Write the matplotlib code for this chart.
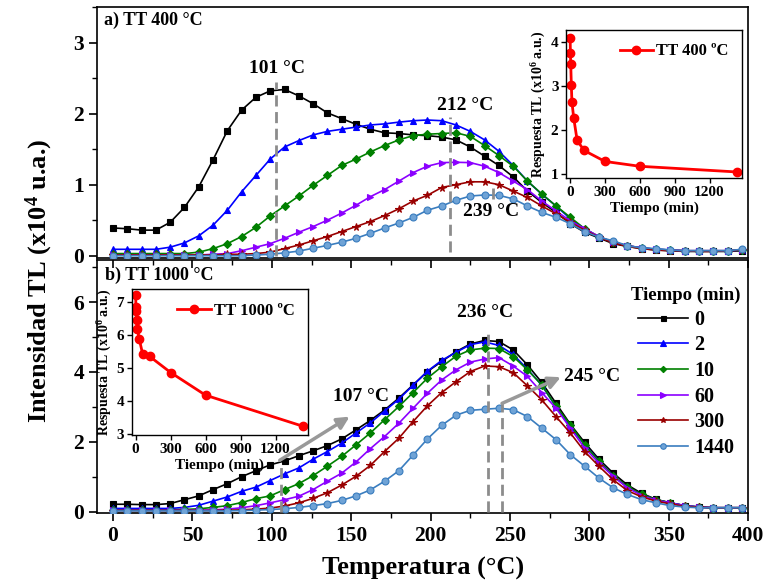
import matplotlib
matplotlib.use("Agg")
import matplotlib.pyplot as plt
from matplotlib.ticker import MultipleLocator

plt.rcParams['font.family'] = ['Liberation Serif', 'DejaVu Serif']
plt.rcParams['font.weight'] = 'bold'
plt.rcParams['mathtext.fontset'] = 'custom'
plt.rcParams['mathtext.rm'] = 'Liberation Serif:bold'
plt.rcParams['mathtext.bf'] = 'Liberation Serif:bold'
plt.rcParams['mathtext.it'] = 'Liberation Serif:bold'
plt.rcParams['axes.linewidth'] = 1.2

# ---------------- data ----------------
temperature = [0, 9, 18, 27, 36, 45, 54, 63, 72, 81, 90, 99, 108, 117, 126, 135, 144, 153, 162, 171,
               180, 189, 198, 207, 216, 225, 234, 243, 252, 261, 270, 279, 288, 297, 306, 315, 324, 333, 342, 351,
               360, 369, 378, 387, 396]

times = ['0', '2', '10', '60', '300', '1440']

tt400_0 = [0.39, 0.38, 0.36, 0.36, 0.47, 0.68, 0.97, 1.35, 1.76, 2.05,
           2.23, 2.32, 2.34, 2.25, 2.14, 2.01, 1.93, 1.85, 1.78, 1.73,
           1.72, 1.70, 1.69, 1.67, 1.63, 1.53, 1.40, 1.27, 1.11, 0.91,
           0.75, 0.61, 0.45, 0.33, 0.25, 0.17, 0.13, 0.10, 0.08, 0.07,
           0.06, 0.06, 0.06, 0.06, 0.07]
tt400_2 = [0.09, 0.09, 0.09, 0.09, 0.12, 0.18, 0.28, 0.43, 0.64, 0.90,
           1.13, 1.36, 1.53, 1.62, 1.70, 1.75, 1.78, 1.81, 1.84, 1.855,
           1.88, 1.90, 1.91, 1.90, 1.84, 1.75, 1.63, 1.47, 1.27, 1.05,
           0.865, 0.70, 0.52, 0.38, 0.26, 0.19, 0.14, 0.11, 0.09, 0.08,
           0.07, 0.07, 0.07, 0.07, 0.08]
tt400_10 = [0.03, 0.03, 0.03, 0.03, 0.03, 0.03, 0.05, 0.10, 0.17, 0.27,
            0.40, 0.56, 0.70, 0.84, 0.99, 1.13, 1.27, 1.36, 1.46, 1.55,
            1.63, 1.69, 1.71, 1.72, 1.73, 1.68, 1.55, 1.41, 1.26, 1.05,
            0.87, 0.70, 0.54, 0.38, 0.27, 0.19, 0.14, 0.11, 0.09, 0.08,
            0.07, 0.07, 0.07, 0.07, 0.08]
tt400_60 = [0.01, 0.01, 0.01, 0.01, 0.01, 0.01, 0.01, 0.02, 0.03, 0.07,
            0.12, 0.17, 0.245, 0.33, 0.41, 0.50, 0.60, 0.71, 0.83, 0.93,
            1.05, 1.17, 1.26, 1.31, 1.315, 1.31, 1.26, 1.17, 1.05, 0.93,
            0.77, 0.63, 0.49, 0.38, 0.27, 0.19, 0.14, 0.11, 0.09, 0.08,
            0.07, 0.07, 0.07, 0.07, 0.08]
tt400_300 = [0.01, 0.01, 0.01, 0.01, 0.01, 0.01, 0.01, 0.01, 0.02, 0.02,
             0.03, 0.05, 0.10, 0.15, 0.21, 0.27, 0.34, 0.41, 0.48, 0.565,
             0.66, 0.77, 0.85, 0.96, 1.00, 1.04, 1.04, 1.00, 0.91, 0.82,
             0.70, 0.59, 0.47, 0.36, 0.26, 0.18, 0.13, 0.10, 0.08, 0.07,
             0.07, 0.06, 0.06, 0.07, 0.08]
tt400_1440 = [0.0, 0.0, 0.0, 0.0, 0.0, 0.0, 0.0, 0.0, 0.0, 0.0,
              0.01, 0.02, 0.04, 0.065, 0.105, 0.145, 0.19, 0.245, 0.315, 0.39,
              0.46, 0.54, 0.64, 0.70, 0.78, 0.84, 0.855, 0.85, 0.80, 0.70,
              0.61, 0.54, 0.45, 0.34, 0.26, 0.21, 0.14, 0.11, 0.10, 0.08,
              0.07, 0.07, 0.07, 0.07, 0.09]

tt1000_0 = [0.21, 0.21, 0.20, 0.20, 0.23, 0.34, 0.45, 0.63, 0.80, 1.00,
            1.17, 1.34, 1.45, 1.60, 1.74, 1.89, 2.08, 2.34, 2.61, 2.91,
            3.25, 3.63, 4.01, 4.30, 4.58, 4.80, 4.90, 4.87, 4.63, 4.20,
            3.70, 3.10, 2.50, 1.98, 1.50, 1.10, 0.76, 0.52, 0.35, 0.25,
            0.17, 0.13, 0.11, 0.11, 0.11]
tt1000_2 = [0.09, 0.09, 0.09, 0.09, 0.09, 0.12, 0.18, 0.30, 0.42, 0.58,
            0.70, 0.89, 1.08, 1.25, 1.50, 1.72, 1.96, 2.25, 2.54, 2.88,
            3.22, 3.62, 4.02, 4.33, 4.56, 4.78, 4.86, 4.76, 4.50, 4.08,
            3.62, 3.00, 2.42, 1.92, 1.45, 1.03, 0.69, 0.49, 0.34, 0.25,
            0.17, 0.13, 0.11, 0.11, 0.11]
tt1000_10 = [0.05, 0.05, 0.05, 0.05, 0.05, 0.06, 0.08, 0.12, 0.17, 0.26,
             0.37, 0.45, 0.63, 0.80, 1.03, 1.30, 1.58, 1.91, 2.25, 2.63,
             3.01, 3.41, 3.82, 4.15, 4.45, 4.63, 4.68, 4.67, 4.44, 4.06,
             3.63, 3.01, 2.49, 1.91, 1.44, 1.03, 0.71, 0.49, 0.34, 0.25,
             0.17, 0.13, 0.11, 0.11, 0.11]
tt1000_60 = [0.04, 0.04, 0.04, 0.04, 0.04, 0.04, 0.04, 0.05, 0.07, 0.11,
             0.17, 0.25, 0.34, 0.44, 0.63, 0.87, 1.10, 1.42, 1.80, 2.15,
             2.53, 2.96, 3.39, 3.77, 4.06, 4.28, 4.37, 4.41, 4.17, 3.87,
             3.41, 2.96, 2.39, 1.82, 1.39, 1.01, 0.68, 0.46, 0.32, 0.25,
             0.17, 0.13, 0.11, 0.11, 0.11]
tt1000_300 = [0.03, 0.03, 0.03, 0.03, 0.03, 0.03, 0.03, 0.03, 0.04, 0.05,
              0.07, 0.10, 0.16, 0.25, 0.38, 0.54, 0.76, 1.01, 1.32, 1.72,
              2.10, 2.58, 3.03, 3.41, 3.72, 4.01, 4.17, 4.15, 3.98, 3.60,
              3.20, 2.72, 2.25, 1.72, 1.30, 0.91, 0.60, 0.42, 0.30, 0.22,
              0.15, 0.12, 0.11, 0.11, 0.11]
tt1000_1440 = [0.02, 0.02, 0.02, 0.02, 0.02, 0.02, 0.02, 0.02, 0.02, 0.03,
               0.04, 0.06, 0.08, 0.12, 0.17, 0.23, 0.32, 0.45, 0.62, 0.87,
               1.17, 1.62, 2.08, 2.47, 2.76, 2.90, 2.93, 2.96, 2.92, 2.72,
               2.39, 2.06, 1.63, 1.30, 0.96, 0.68, 0.49, 0.34, 0.25, 0.17,
               0.13, 0.11, 0.11, 0.11, 0.11]

inset_time = [0, 2, 5, 10, 15, 30, 60, 120, 300, 600, 1440]
resp_400 = [4.08, 3.74, 3.49, 3.02, 2.64, 2.28, 1.76, 1.53, 1.28, 1.17, 1.04]
resp_1000 = [7.23, 6.85, 6.75, 6.47, 6.19, 5.90, 5.43, 5.36, 4.87, 4.18, 3.23]

top_series = [tt400_0, tt400_2, tt400_10, tt400_60, tt400_300, tt400_1440]
bot_series = [tt1000_0, tt1000_2, tt1000_10, tt1000_60, tt1000_300, tt1000_1440]

# ---------------- styles ----------------
colors = ['#000000', '#0000FF', '#008000', '#8B00FF', '#990000', '#3A7DBF']
markers = ['s', '^', 'D', '>', '*', 'o']
msizes = [4.5, 5, 4, 5, 5.5, 5]
gray = '#8C8C8C'

fig = plt.figure(figsize=(7.65, 5.86), dpi=100)
ax1 = fig.add_axes([0.127, 0.560, 0.851, 0.428])
ax2 = fig.add_axes([0.127, 0.1246, 0.851, 0.4314])


def draw(ax, series):
    hs = []
    for s, c, m, ms, lab in zip(series, colors, markers, msizes, times):
        mfc = c
        if m == 'o':
            mfc = '#6FA3D6'
        h, = ax.plot(temperature, s, color=c, marker=m, markersize=ms, lw=1.2,
                     markerfacecolor=mfc, markeredgecolor=c, markeredgewidth=0.8,
                     label=lab, zorder=3)
        hs.append(h)
    return hs


draw(ax1, top_series)
handles = draw(ax2, bot_series)

for ax in (ax1, ax2):
    ax.set_xlim(-10, 400)
    ax.tick_params(axis='both', labelsize=15.5, width=1.2)
    ax.tick_params(axis='y', which='major', direction='out', length=6)
    ax.tick_params(axis='y', which='minor', direction='out', length=3.5, width=1)
    ax.xaxis.set_major_locator(MultipleLocator(50))
    ax.xaxis.set_minor_locator(MultipleLocator(25))
    for lbl in ax.get_xticklabels() + ax.get_yticklabels():
        lbl.set_fontweight('bold')

ax1.set_ylim(-0.03, 3.5)
ax1.yaxis.set_major_locator(MultipleLocator(1))
ax1.yaxis.set_minor_locator(MultipleLocator(0.5))
ax1.tick_params(axis='x', which='both', bottom=False, labelbottom=False)

ax2.set_ylim(-0.04, 7.2)
ax2.yaxis.set_major_locator(MultipleLocator(2))
ax2.yaxis.set_minor_locator(MultipleLocator(1))
ax2.tick_params(axis='x', which='major', direction='out', length=6, top=True)
ax2.tick_params(axis='x', which='minor', direction='out', length=3.5, width=1, top=True)
# top ticks inward
for t in ax2.xaxis.get_major_ticks() + ax2.xaxis.get_minor_ticks():
    t.tick2line.set_marker(3)

ax2.set_xlabel('Temperatura (°C)', fontsize=19, fontweight='bold', labelpad=8)
fig.text(0.052, 0.52, r'Intensidad TL (x10$^{4}$ u.a.)', rotation=90,
         fontsize=19, fontweight='bold', ha='center', va='center')

# ---------------- annotations top ----------------
ax1.text(-6, 3.31, 'a) TT 400 °C', fontsize=13, fontweight='bold', va='center', ha='left')
dash = dict(color=gray, lw=2, linestyle=(0, (4, 2)), zorder=4)
ax1.plot([102.5, 102.5], [0.0, 2.45], **dash)
ax1.text(103, 2.64, '101 °C', fontsize=14, fontweight='bold', ha='center', va='center')
ax1.plot([212, 212], [0.05, 1.95], **dash)
ax1.text(222, 2.12, '212 °C', fontsize=14, fontweight='bold', ha='center', va='center')
ax1.plot([239, 239], [0.8, 0.96], **dash)
ax1.text(238, 0.62, '239 °C', fontsize=14, fontweight='bold', ha='center', va='center')

# ---------------- annotations bottom ----------------
ax2.text(-5, 6.77, 'b) TT 1000 °C', fontsize=13, fontweight='bold', va='center', ha='left')
ax2.plot([236, 236], [0.0, 5.1], **dash)
ax2.text(234, 5.69, '236 °C', fontsize=14, fontweight='bold', ha='center', va='center')
ax2.plot([245, 245], [0.0, 3.1], **dash)
ax2.plot([106, 106], [0.0, 1.3], **dash)
arrow = dict(arrowstyle='-|>', color='#999999', lw=2.5, mutation_scale=18, shrinkA=0, shrinkB=0)
ax2.annotate('', xy=(282, 3.85), xytext=(245, 3.1), arrowprops=arrow, zorder=5)
ax2.text(284, 3.87, '245 °C', fontsize=14, fontweight='bold', ha='left', va='center')
ax2.annotate('', xy=(149, 2.72), xytext=(105, 1.47), arrowprops=arrow, zorder=5)
ax2.text(156, 3.29, '107 °C', fontsize=14, fontweight='bold', ha='center', va='center')

leg = ax2.legend(handles=handles, title='Tiempo (min)', loc='upper left',
                 bbox_to_anchor=(0.805, 0.935), frameon=False, fontsize=14.5,
                 title_fontsize=13.5, handlelength=2.5, handletextpad=0.3,
                 labelspacing=0.28, borderpad=0, markerscale=0.8)
leg.get_title().set_fontweight('bold')
for t in leg.get_texts():
    t.set_fontweight('bold')

# ---------------- insets ----------------
def inset(rect, x, y, ylim, yticks, label):
    ax = fig.add_axes(rect)
    ax.plot(x, y, color='#FF0000', lw=2, marker='o', markersize=6, label=label)
    ax.set_xlim(-35, 1480)
    ax.set_ylim(*ylim)
    ax.set_xticks([0, 300, 600, 900, 1200])
    ax.set_yticks(yticks)
    ax.tick_params(labelsize=11, length=3.5, width=1, direction='out', pad=2)
    for lbl in ax.get_xticklabels() + ax.get_yticklabels():
        lbl.set_fontweight('bold')
    ax.set_xlabel('Tiempo (min)', fontsize=11, fontweight='bold', labelpad=2)
    ax.set_ylabel(r'Respuesta TL (x10$^{6}$ a.u.)', fontsize=10, fontweight='bold', labelpad=2)
    for sp in ax.spines.values():
        sp.set_linewidth(1)
    lg = ax.legend(loc='upper right', frameon=False, fontsize=12, handlelength=2,
                   handletextpad=0.2, borderaxespad=0.4)
    for t in lg.get_texts():
        t.set_fontweight('bold')
    return ax


inset([0.740, 0.696, 0.230, 0.2526], inset_time, resp_400, (0.9, 4.27), [1, 2, 3, 4], 'TT 400 ºC')
inset([0.172, 0.2577, 0.2308, 0.2486], inset_time, resp_1000, (2.97, 7.4), [3, 4, 5, 6, 7], 'TT 1000 ºC')

fig.savefig('out.png', dpi=100)
